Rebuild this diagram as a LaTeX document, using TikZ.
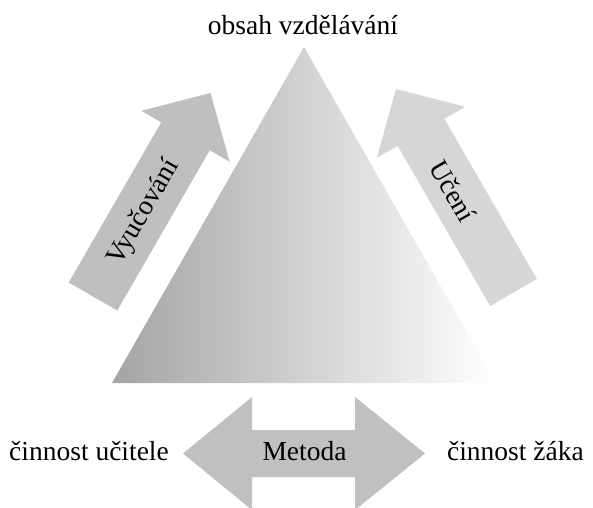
\documentclass[tikz,border=0pt]{standalone}
\usepackage{fontspec}
\setmainfont{Liberation Serif}
\begin{document}
\begin{tikzpicture}[x=1pt,y=1pt,
  lbl/.style={font=\fontsize{27.5}{33}\selectfont, text=black, inner sep=0pt},
  arrL/.style={fill=arrowgrayA, draw=none},
  arrR/.style={fill=arrowgrayB, draw=none},
  arrB/.style={fill=arrowgrayC, draw=none}]
\definecolor{arrowgrayA}{HTML}{BFBFBF}
\definecolor{arrowgrayB}{HTML}{D6D6D6}
\definecolor{arrowgrayC}{HTML}{C0C0C0}
\definecolor{trigray}{HTML}{A4A4A4}
\useasboundingbox (0,0) rectangle (593,507);
% triangle with gradient
\shade[left color=trigray, right color=white, draw=none] (112,124) -- (304,460) -- (496,124) -- cycle;
% left arrow
\begin{scope}[shift={(93,210.5)}, rotate=60]
  \fill[arrL] (0,-28) -- (185,-28) -- (185,-51) -- (235,0) -- (185,51) -- (185,28) -- (0,28) -- cycle;
  \node[lbl, rotate=60, anchor=center] (vyuc) at (98,-2) {Vyučování};
\end{scope}
% right arrow
\begin{scope}[shift={(513.5,214.5)}, rotate=120]
  \fill[arrR] (0,-27) -- (185,-27) -- (185,-51) -- (235,0) -- (185,51) -- (185,27) -- (0,27) -- cycle;
  \node[lbl, rotate=-60, anchor=center] (uceni) at (118,2) {Učení};
\end{scope}
% double arrow
\begin{scope}[shift={(304,53.5)}]
  \fill[arrB] (-121,0) -- (-52,56.5) -- (-52,23.5) -- (51,23.5) -- (51,56.5) -- (121,0)
     -- (51,-56.5) -- (51,-23.5) -- (-52,-23.5) -- (-52,-56.5) -- cycle;
\end{scope}
\node[lbl, anchor=base] (metoda) at (304.5,47) {Metoda};
\node[lbl, anchor=base] (obsah) at (303,472) {obsah vzdělávání};
\node[lbl, anchor=base west] (ucitel) at (9,47) {činnost učitele};
\node[lbl, anchor=base east] (zak) at (584,47) {činnost žáka};
\end{tikzpicture}
\end{document}
